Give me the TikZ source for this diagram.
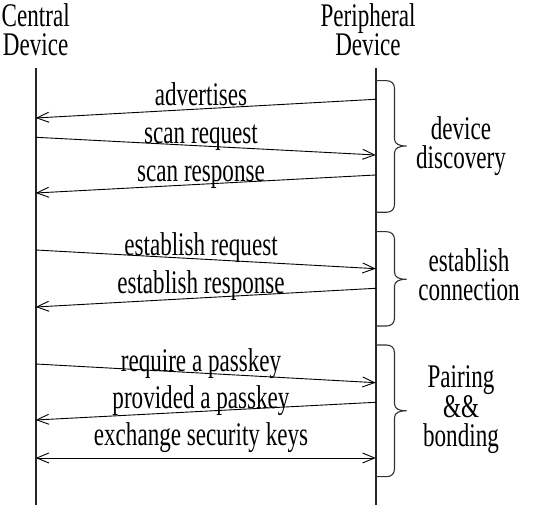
\documentclass[tikz,border=0pt]{standalone}
\usepackage{fontspec}
\setmainfont[FakeStretch=0.7]{Liberation Serif}
\usetikzlibrary{arrows.meta}
\newcommand{\grpbrace}[4]{% #1 name, #2 top, #3 tip, #4 bottom
  \draw[bracestyle] (375.7,#2) -- (386.5,#2)
    .. controls (391.5,#2) and (394.5,#2-3) .. (394.5,#2-8)
    -- (394.5,#3+7)
    .. controls (394.5,#3+2) and (399,#3) .. (406.5,#3)
    .. controls (399,#3) and (394.5,#3-2) .. (394.5,#3-7)
    -- (394.5,#4+8)
    .. controls (394.5,#4+3) and (391.5,#4) .. (386.5,#4) -- (375.7,#4);
  \coordinate (#1) at (406.5,#3);
}
\begin{document}
\begin{tikzpicture}[x=1pt,y=1pt,
  every node/.style={font=\fontsize{33}{29}\selectfont, inner sep=0pt, outer sep=0pt},
  life/.style={line width=2pt, draw=black!85},
  msg/.style={line width=0.9pt, -{Straight Barb[length=12pt,width=10pt,line width=0.9pt]}},
  both/.style={line width=0.9pt, {Straight Barb[length=12pt,width=10pt,line width=0.9pt]}-{Straight Barb[length=12pt,width=10pt,line width=0.9pt]}},
  lbl/.style={anchor=base},
  head/.style={align=center},
  grplbl/.style={align=center},
  bracestyle/.style={line width=1.1pt, draw=black!80}]
\useasboundingbox (0,0) rectangle (533,505);

% headers
\node[head] (central) at (35.7,475.7) {Central\\Device};
\node[head] (periph) at (368,475.7) {Peripheral\\Device};

% lifelines
\coordinate (ctop) at (35.7,436.7);
\coordinate (cbot) at (35.7,0);
\coordinate (ptop) at (375.7,436.7);
\coordinate (pbot) at (375.7,0);
\draw[life] (ctop) -- (cbot);
\draw[life] (ptop) -- (pbot);

% message end points
\coordinate (p1) at (375.7,405.7); \coordinate (c1) at (35.7,387);
\coordinate (c2) at (35.7,367.7);  \coordinate (p2) at (375.7,350);
\coordinate (p3) at (375.7,330);   \coordinate (c3) at (35.7,312);
\coordinate (c4) at (35.7,255);    \coordinate (p4) at (375.7,236.3);
\coordinate (p5) at (375.7,216.7); \coordinate (c5) at (35.7,198);
\coordinate (c6) at (35.7,141);    \coordinate (p6) at (375.7,122.3);
\coordinate (p7) at (375.7,102.7); \coordinate (c7) at (35.7,85);
\coordinate (c8) at (35.7,47);     \coordinate (p8) at (375.7,47);

\draw[msg] (p1) -- (c1);
\draw[msg] (c2) -- (p2);
\draw[msg] (p3) -- (c3);
\draw[msg] (c4) -- (p4);
\draw[msg] (p5) -- (c5);
\draw[msg] (c6) -- (p6);
\draw[msg] (p7) -- (c7);
\draw[both] (c8) -- (p8);

% message labels
\node[lbl] (l1) at (201,399) {advertises};
\node[lbl] (l2) at (201,361) {scan request};
\node[lbl] (l3) at (201,323) {scan response};
\node[lbl] (l4) at (201,249) {establish request};
\node[lbl] (l5) at (201,211) {establish response};
\node[lbl] (l6) at (201,133) {require a passkey};
\node[lbl] (l7) at (201,96) {provided a passkey};
\node[lbl] (l8) at (201,59) {exchange security keys};

% braces
\grpbrace{b1}{424.3}{359}{292.7}
\grpbrace{b2}{273.3}{225.7}{179}
\grpbrace{b3}{160}{94.2}{28.3}

% group labels
\node[grplbl] (g1) at (461,359) {device\\discovery};
\node[grplbl] (g2) at (469,230.4) {establish\\connection};
\node[grplbl] (g3) at (461,95.3) {Pairing\\\&\&\\bonding};
\end{tikzpicture}
\end{document}
